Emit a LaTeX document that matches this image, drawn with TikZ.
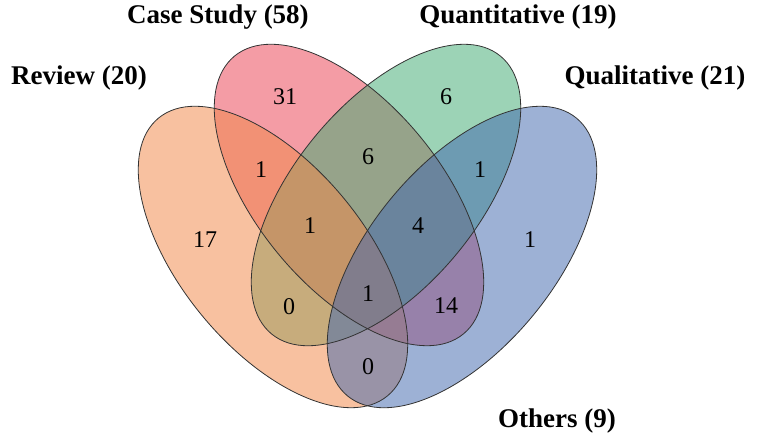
\documentclass[tikz,border=0pt]{standalone}
\usepackage{fontspec}
\setmainfont{Liberation Serif}
\usetikzlibrary{positioning}
\definecolor{reviewc}{HTML}{F18949}
\definecolor{casec}{HTML}{E94153}
\definecolor{quantc}{HTML}{41AB73}
\definecolor{qualc}{HTML}{4369AF}
\tikzstyle{setfill} = [fill opacity=0.52]
\tikzstyle{setline} = [draw=black!80, line width=0.8pt]
\tikzstyle{setname} = [font=\fontsize{27}{30}\selectfont\bfseries]
\tikzstyle{count}   = [font=\fontsize{24}{26}\selectfont]

\begin{document}
\begin{tikzpicture}[x=1pt,y=1pt]
    \useasboundingbox (0,0) rectangle (772,447);
    \coordinate (creview) at (273,190);
    \coordinate (ccase) at (349,252);
    \coordinate (cquant) at (386,252);
    \coordinate (cqual) at (462,190);

    % fills
    \fill[setfill, casec, rotate around={-50.5:(ccase)}] (ccase) ellipse [x radius=180pt, y radius=92pt];
    \fill[setfill, quantc, rotate around={50.5:(cquant)}] (cquant) ellipse [x radius=180pt, y radius=92pt];
    \fill[setfill, reviewc, rotate around={-50.5:(creview)}] (creview) ellipse [x radius=180pt, y radius=92pt];
    \fill[setfill, qualc, rotate around={50.5:(cqual)}] (cqual) ellipse [x radius=180pt, y radius=92pt];

    % outlines
    \draw[setline, rotate around={-50.5:(creview)}] (creview) ellipse [x radius=180pt, y radius=92pt];
    \draw[setline, rotate around={-50.5:(ccase)}] (ccase) ellipse [x radius=180pt, y radius=92pt];
    \draw[setline, rotate around={50.5:(cquant)}] (cquant) ellipse [x radius=180pt, y radius=92pt];
    \draw[setline, rotate around={50.5:(cqual)}] (cqual) ellipse [x radius=180pt, y radius=92pt];

    % set names
    \node[setname] (review) at (79,369) {Review (20)};
    \node[setname] (case) at (218,430) {Case Study (58)};
    \node[setname] (quant) at (518,430) {Quantitative (19)};
    \node[setname] (qual) at (655,369) {Qualitative (21)};
    \node[setname] (others) at (557,26) {Others (9)};

    % counts
    \node[count] (n-c) at (285,350) {31};
    \node[count] (n-q) at (446,350) {6};
    \node[count] (n-rc) at (261,277) {1};
    \node[count] (n-cq) at (368,290) {6};
    \node[count] (n-ql) at (480,277) {1};
    \node[count] (n-r) at (205,207) {17};
    \node[count] (n-rcq) at (310,221) {1};
    \node[count] (n-cql) at (418,221) {4};
    \node[count] (n-l) at (530,207) {1};
    \node[count] (n-rq) at (289,140) {0};
    \node[count] (n-all) at (368,153) {1};
    \node[count] (n-cl) at (446,141) {14};
    \node[count] (n-rl) at (368,80) {0};
\end{tikzpicture}
\end{document}
